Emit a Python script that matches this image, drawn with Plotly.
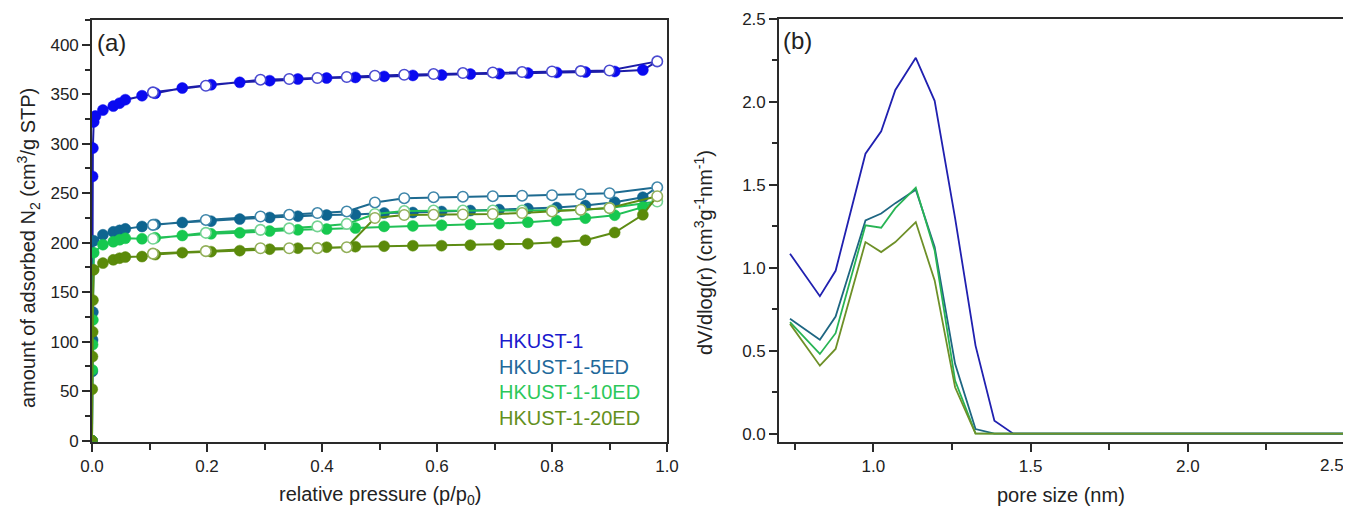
import plotly.graph_objects as go

# ---------------- data: panel (a) N2 isotherms ----------------
low_p_blue = [0.0, 0.001, 0.0015, 0.003, 0.006, 0.019, 0.037, 0.048, 0.058]
low_v_blue = [0, 267, 295.6, 322, 328, 334, 338, 341, 344.5]
low_p_5ed = [0.0, 0.0005, 0.001, 0.0015, 0.003, 0.019, 0.037, 0.048, 0.058]
low_v_5ed = [0, 70, 101.8, 130, 202, 208, 211, 212.5, 214]
low_p_10ed = [0.0, 0.0005, 0.001, 0.0015, 0.003, 0.019, 0.037, 0.048, 0.058]
low_v_10ed = [0, 71.5, 97, 122, 190, 198, 201, 203, 204.5]
low_p_20ed = [0.0, 0.0004, 0.0008, 0.0012, 0.0016, 0.003, 0.019, 0.037, 0.048, 0.058]
low_v_20ed = [0, 52, 85, 110, 142, 172.6, 179.4, 182.7, 184.4, 185.5]

ads_p = [0.087, 0.11, 0.157, 0.207, 0.257, 0.309, 0.358, 0.408, 0.458, 0.508,
         0.558, 0.608, 0.658, 0.708, 0.758, 0.808, 0.858, 0.909, 0.958]
ads_blue = [348.5, 351, 356.3, 359.6, 362, 363.7, 365.4, 366.4, 367, 368,
            369, 369.4, 370.4, 370.8, 371.4, 372, 372.4, 373, 374.5]
ads_5ed = [216.4, 218.5, 220.4, 221.8, 223.9, 225.5, 226.8, 228, 228.5, 230,
           230.5, 231.5, 232.5, 233.5, 234.5, 235.5, 237.5, 241, 246]
ads_10ed = [204, 205, 207.3, 209, 210, 211.8, 213, 213.8, 214.8, 216.5,
            217, 217.7, 218.4, 219.3, 220.7, 222.4, 224.8, 227.8, 236]
ads_20ed = [186, 188, 190, 191, 192, 193.5, 194.5, 195.5, 196, 196.5,
            197, 197, 197.5, 198, 199, 200.5, 202.5, 210.3, 228.2]

des_p = [0.983, 0.90, 0.85, 0.80, 0.748, 0.697, 0.645, 0.594, 0.543, 0.492,
         0.443, 0.392, 0.343, 0.293, 0.198, 0.106]
des_blue = [383.2, 374, 373.4, 373, 372.4, 372, 371.4, 370.4, 369.7, 368.7,
            367.4, 366.4, 365.4, 364.7, 358.6, 351.9]
des_5ed = [256, 250, 249, 248, 247.5, 247, 246.5, 246, 245, 240.7,
           231.6, 230, 228.2, 226.5, 223, 218]
des_10ed = [241.6, 235, 233, 232.5, 232.5, 232.5, 232.5, 232.5, 232, 229,
            219, 216.5, 214.5, 213, 210, 204]
des_20ed = [247, 235, 233.3, 231.6, 230, 229, 228.5, 228.2, 228, 225,
            195.5, 194.5, 194.4, 194.4, 191.5, 189]

# ---------------- data: panel (b) pore size distribution ----------------
pore = [0.735, 0.83, 0.88, 0.975, 1.025, 1.07, 1.135, 1.195, 1.26, 1.325, 1.385, 1.445, 2.5]
psd_blue = [1.085, 0.829, 0.982, 1.688, 1.823, 2.072, 2.266, 2.007, 1.30, 0.531, 0.078, 0.0, 0.0]
psd_5ed = [0.693, 0.566, 0.706, 1.286, 1.327, 1.39, 1.471, 1.125, 0.421, 0.028, 0.0, 0.0, 0.0]
psd_10ed = [0.672, 0.481, 0.606, 1.256, 1.242, 1.36, 1.483, 1.105, 0.32, 0.002, 0.0, 0.0, 0.0]
psd_20ed = [0.662, 0.41, 0.511, 1.155, 1.095, 1.155, 1.276, 0.924, 0.28, 0.0, 0.0, 0.0, 0.0]

x2_ticks = [1.0, 1.5, 2.0, 2.5]
x2_labels = ["1.0", "1.5", "2.0", "2.5"]

names = ["HKUST-1", "HKUST-1-5ED", "HKUST-1-10ED", "HKUST-1-20ED"]

# The page body has an 8px margin; build the figure 8px smaller and shift
# every reference pixel position by that offset.
OFF = 8
W, H = 1351 - OFF, 509 - OFF
FONT = "Liberation Sans, Arial, sans-serif"


def fx(px):
    return (px - OFF) / W


def fy(py):
    return 1 - (py - OFF) / H


series = [
    dict(low_p=low_p_blue, low_v=low_v_blue, ads=ads_blue, des=des_blue, psd=psd_blue,
         line="#1c1ca8", fill="#0a0af0", open="#4a4ad0", text="#1a1acd", psdc="#2020b0"),
    dict(low_p=low_p_5ed, low_v=low_v_5ed, ads=ads_5ed, des=des_5ed, psd=psd_5ed,
         line="#1d6a90", fill="#0e6590", open="#3f86aa", text="#22699a", psdc="#1e6682"),
    dict(low_p=low_p_10ed, low_v=low_v_10ed, ads=ads_10ed, des=des_10ed, psd=psd_10ed,
         line="#22c057", fill="#16c84f", open="#74d392", text="#2cc85a", psdc="#28b455"),
    dict(low_p=low_p_20ed, low_v=low_v_20ed, ads=ads_20ed, des=des_20ed, psd=psd_20ed,
         line="#5e8c14", fill="#5b8a0a", open="#93b05a", text="#64901c", psdc="#6e9028"),
]

fig = go.Figure()

for s, nm in zip(series, names):
    lx = s["low_p"] + ads_p + des_p
    ly = s["low_v"] + s["ads"] + s["des"]
    fig.add_trace(go.Scatter(x=lx, y=ly, mode="lines", line=dict(color=s["line"], width=2),
                             xaxis="x", yaxis="y", showlegend=False, hoverinfo="skip"))
    fig.add_trace(go.Scatter(x=s["low_p"] + ads_p, y=s["low_v"] + s["ads"], mode="markers",
                             marker=dict(symbol="circle", size=11, color=s["fill"],
                                         line=dict(color=s["fill"], width=0.5)),
                             xaxis="x", yaxis="y", name=nm, showlegend=False))
    fig.add_trace(go.Scatter(x=des_p, y=s["des"], mode="markers",
                             marker=dict(symbol="circle", size=10.5, color="white",
                                         line=dict(color=s["open"], width=1.6)),
                             xaxis="x", yaxis="y", name=nm + " des", showlegend=False))

for s, nm in zip(series, names):
    fig.add_trace(go.Scatter(x=pore, y=s["psd"], mode="lines",
                             line=dict(color=s["psdc"], width=1.8),
                             xaxis="x2", yaxis="y2", name=nm, showlegend=False))

TC = "#2a2a2a"
axis_common = dict(showgrid=False, zeroline=False, showline=True, linecolor=TC,
                   linewidth=1.6, mirror=True, ticks="outside", ticklen=8, tickwidth=1.5,
                   tickcolor=TC, automargin=False,
                   tickfont=dict(family=FONT, size=17, color="#222"))

fig.update_layout(
    width=W, height=H, margin=dict(l=0, r=0, t=0, b=0),
    paper_bgcolor="white", plot_bgcolor="white", template="none",
    xaxis=dict(domain=[fx(92), fx(667)], range=[0, 1.0], tickvals=[0, 0.2, 0.4, 0.6, 0.8, 1.0],
               ticktext=["0.0", "0.2", "0.4", "0.6", "0.8", "1.0"],
               minor=dict(tickvals=[0.1, 0.3, 0.5, 0.7, 0.9], ticklen=6, ticks="outside",
                          tickwidth=1.5, tickcolor=TC),
               anchor="y", **axis_common),
    yaxis=dict(domain=[fy(441.7), fy(20)], range=[-1, 425],
               tickvals=[0, 50, 100, 150, 200, 250, 300, 350, 400],
               minor=dict(tickvals=[25, 75, 125, 175, 225, 275, 325, 375, 425], ticklen=5,
                          ticks="outside", tickwidth=1.5, tickcolor=TC),
               anchor="x", **axis_common),
    # last label (2.5) sits on the page edge; it is drawn as an annotation below
    xaxis2=dict(domain=[fx(779), fx(1345)], range=[0.7, 2.5], tickvals=x2_ticks,
                ticktext=x2_labels[:-1] + [""],
                minor=dict(tickvals=[0.75, 1.25, 1.75, 2.25], ticklen=6, ticks="outside",
                           tickwidth=1.5, tickcolor=TC),
                anchor="y2", **axis_common),
    yaxis2=dict(domain=[fy(442), fy(19)], range=[-0.05, 2.5],
                tickvals=[0, 0.5, 1.0, 1.5, 2.0, 2.5],
                ticktext=["0.0", "0.5", "1.0", "1.5", "2.0", "2.5"],
                minor=dict(tickvals=[0.25, 0.75, 1.25, 1.75, 2.25], ticklen=5, ticks="outside",
                           tickwidth=1.5, tickcolor=TC),
                anchor="x2", **axis_common),
)

ann = []


def A(text, x, y, size=20, color="#222", angle=0, xanchor="center"):
    ann.append(dict(text=text, x=fx(x), y=fy(y), xref="paper", yref="paper",
                    showarrow=False, textangle=angle, xanchor=xanchor, yanchor="middle",
                    font=dict(family=FONT, size=size, color=color)))


A("amount of adsorbed N<sub>2</sub> (cm<sup>3</sup>/g STP)", 28, 248, angle=-90)
A("relative pressure (p/p<sub>0</sub>)", 380, 495)
A("dV/dlog(r) (cm<sup>3</sup>g<sup>-1</sup>nm<sup>-1</sup>)", 703, 252, angle=-90)
A("pore size (nm)", 1061, 495)
A("(a)", 95, 43, size=24, xanchor="left")
A("(b)", 781, 40, size=24, xanchor="left")
A(x2_labels[-1], 1346, 465, size=17, xanchor="right")
for i, (s, nm) in enumerate(zip(series, names)):
    A(nm, 497, 341 + i * 25.5, size=20, color=s["text"], xanchor="left")

fig.update_layout(annotations=ann)
fig.write_html("out.html")
